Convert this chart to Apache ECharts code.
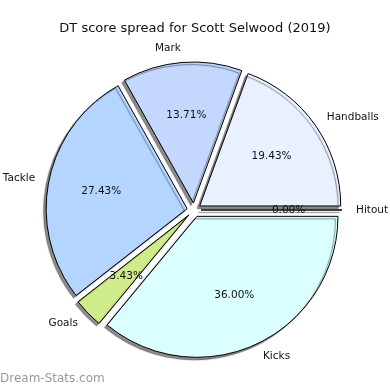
<!DOCTYPE html>
<html>
<head>
<meta charset="utf-8">
<script src="https://cdn.jsdelivr.net/npm/echarts@6/dist/echarts.min.js"></script>
<style>html,body{margin:0;padding:0;background:#fff}#c{width:390px;height:390px}</style>
</head>
<body>
<div id="c"></div>
<script>
const categories = ['Handballs', 'Mark', 'Tackle', 'Goals', 'Kicks', 'Hitout'];
const values = [34, 24, 48, 6, 63, 0];
const colors = ['#e9f0ff', '#c4d8ff', '#b4d5ff', '#d0eb8a', '#dbffff', '#ffffff'];
const titleText = 'DT score spread for Scott Selwood (2019)';

const R = 141, CX = 194, CY = 210, OFF = 7;
const font = 'DejaVu Sans';

const mainData = categories.map((c, i) => ({
  name: c, value: values[i], selected: true,
  itemStyle: { color: colors[i] }
}));
const overlayData = categories.map((c, i) => ({
  name: c, value: values[i], selected: true
}));

const chart = echarts.init(document.getElementById('c'), null, { renderer: 'canvas' });
chart.setOption({
  animation: false,
  backgroundColor: '#fff',
  title: {
    text: titleText, left: 'center', top: 17,
    textStyle: { fontFamily: font, fontSize: 13, fontWeight: 'normal', color: '#111' }
  },
  graphic: [{
    type: 'text', left: 0, top: 373,
    style: { text: 'Dream-Stats.com', font: '12px "DejaVu Sans"', fill: '#999' }
  }],
  series: [
    {
      type: 'pie', center: [CX, CY], radius: [0, R],
      startAngle: 0, clockwise: false,
      selectedMode: 'multiple', selectedOffset: OFF,
      avoidLabelOverlap: false, silent: true,
      itemStyle: {
        borderColor: '#000', borderWidth: 1,
        shadowColor: 'rgba(0,0,0,0.45)', shadowBlur: 1, shadowOffsetX: -2.5, shadowOffsetY: 2.5
      },
      select: { itemStyle: { borderColor: '#000', borderWidth: 1 } },
      emphasis: { disabled: true, scale: false },
      label: {
        show: true, position: 'outside', distanceToLabelLine: 0,
        fontFamily: font, fontSize: 10.5, color: '#111',
        formatter: '{b}'
      },
      labelLine: { show: false, length: 14, length2: 0 },
      data: mainData
    },
    {
      type: 'pie', center: [CX, CY], radius: [R * 0.2, R],
      startAngle: 0, clockwise: false,
      selectedMode: 'multiple', selectedOffset: OFF,
      avoidLabelOverlap: false, silent: true,
      itemStyle: { color: 'rgba(0,0,0,0)', borderWidth: 0 },
      select: { itemStyle: { color: 'rgba(0,0,0,0)', borderWidth: 0 } },
      emphasis: { disabled: true, scale: false },
      label: {
        show: true, position: 'inside',
        fontFamily: font, fontSize: 10.5, color: '#111',
        formatter: p => p.percent.toFixed(2) + '%'
      },
      labelLine: { show: false },
      data: overlayData
    }
  ]
});
</script>
</body>
</html>
